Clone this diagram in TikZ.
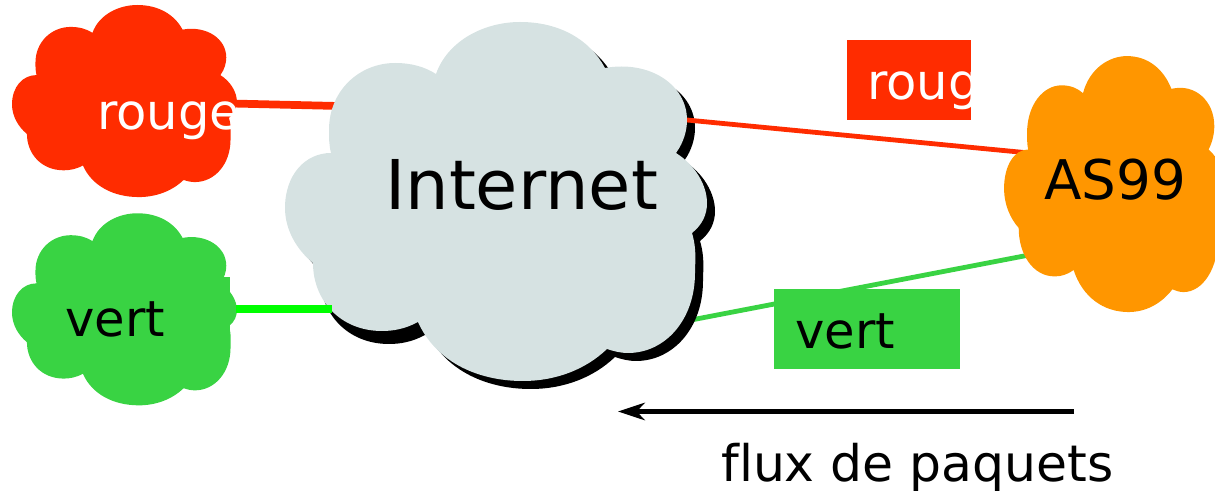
\documentclass[tikz,border=0pt]{standalone}
\usepackage{fontspec}
\setmainfont[Ligatures=NoCommon]{DejaVu Sans}
\usetikzlibrary{arrows.meta}
\definecolor{cRed}{HTML}{FF2C00}
\definecolor{cGreen}{HTML}{39D343}
\definecolor{cLime}{HTML}{00FF00}
\definecolor{cOrange}{HTML}{FF9600}
\definecolor{cGrey}{HTML}{D6E2E2}
\newcommand{\cloudshape}{(436,74) .. controls (448,40) and (485,22) .. (520,22) .. controls (560,22) and (590,40) .. (605,68)
 .. controls (650,60) and (687,85) .. (687,120) .. controls (687,130) and (684,142) .. (676,153)
 .. controls (695,165) and (707,185) .. (707,203) .. controls (707,215) and (702,225) .. (692,233)
 .. controls (697,250) and (695,262) .. (695,273) .. controls (695,320) and (665,353) .. (628,353) .. controls (620,353) and (613,351) .. (607,349)
 .. controls (585,370) and (555,381) .. (523,381) .. controls (475,381) and (435,360) .. (418,322)
 .. controls (405,329) and (393,331) .. (382,331) .. controls (340,331) and (313,300) .. (313,263)
 .. controls (297,250) and (285,230) .. (285,208) .. controls (285,175) and (305,153) .. (331,153)
 .. controls (329,145) and (329,138) .. (329,130) .. controls (329,90) and (360,63) .. (395,63) .. controls (412,63) and (425,67) .. (436,74) -- cycle}
\tikzset{
  lbl/.style={inner sep=0pt,anchor=base west,font=\fontsize{37.2pt}{37.2pt}\selectfont},
  thinlink/.style={line width=3.6pt},
}
\begin{document}
\begin{tikzpicture}[x=0.75pt,y=-0.75pt]
\clip (0,0) rectangle (1215,491);
% anchors
\coordinate (rougeE) at (210,103);
\coordinate (inetW) at (360,106.5);
\coordinate (vertE) at (236,309);
\coordinate (inetSW) at (332,309);
\coordinate (inetE) at (660,117.4);
\coordinate (asW) at (1050,155);
\coordinate (inetSE) at (660,326);
\coordinate (asSW) at (1050,251);
\coordinate (flowStart) at (1074,411.5);
\coordinate (flowEnd) at (618,411.5);
% connectors beneath the clouds
\draw[cRed,line width=5.8pt] (rougeE) -- (inetW);
\draw[cGreen,thinlink] (inetSE) -- (asSW);
% small rectangle behind green cloud
\fill[cGreen] (150,277) rectangle (230,357);
% clouds
\fill[cRed,shift={(-139.9,-6.77)},xscale=0.533,yscale=0.535] \cloudshape;
\fill[cGreen,shift={(-139.9,201.5)},xscale=0.533,yscale=0.535] \cloudshape;
\fill[black,shift={(8,8)}] \cloudshape;
\begin{scope}
\clip (314,270) rectangle (425,350);
\fill[black,shift={(7,13)}] \cloudshape;
\end{scope}
\draw[cRed,thinlink] (inetE) -- (asW);
\fill[cOrange,shift={(855,40.4)},xscale=0.523,yscale=0.713] \cloudshape;
\fill[cGrey] \cloudshape;
\draw[cLime,line width=6pt] (vertE) -- (inetSW);
% boxes
\fill[cRed] (847,40) rectangle (971,120);
\fill[cGreen] (774,289) rectangle (960,369);
\begin{scope}
\clip (847,40) rectangle (971,120);
\node[lbl,text=white] (rougeBox) at (867,100) {rouge};
\end{scope}
\node[lbl] (vertBox) at (795,349) {vert};
% labels
\node[lbl,text=white] (rougeLbl) at (97,130) {rouge};
\node[lbl] (vertLbl) at (65,337) {vert};
\node[inner sep=0pt,anchor=base west,font=\fontsize{51.5pt}{51.5pt}\selectfont] (inetLbl) at (385,209.5) {Internet};
\node[inner sep=0pt,anchor=base west,font=\fontsize{41pt}{41pt}\selectfont] (asLbl) at (1044,200) {AS99};
\node[inner sep=0pt,anchor=base west,font=\fontsize{37.8pt}{37.8pt}\selectfont] (fluxLbl) at (721,482) {flux de paquets};
% flow arrow
\draw[line width=3.75pt,-{Stealth[length=20pt,width=13pt,inset=6pt]}] (flowStart) -- (flowEnd);
\end{tikzpicture}
\end{document}
